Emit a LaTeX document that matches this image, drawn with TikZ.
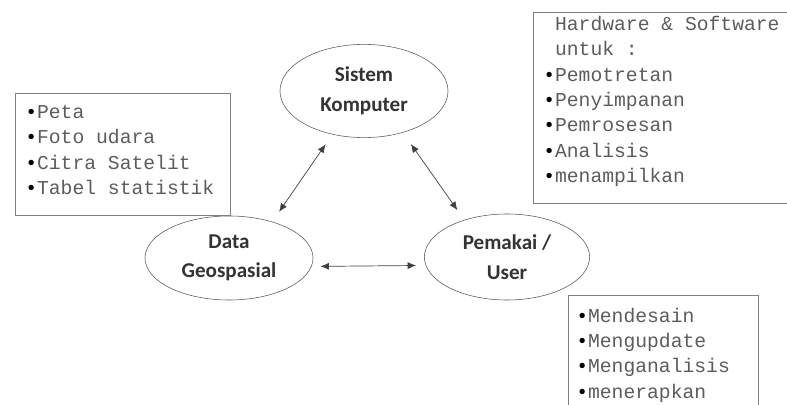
\documentclass[tikz,border=0pt]{standalone}
\usepackage{fontspec}
\setmainfont{Carlito}
\newfontfamily\monofont[WordSpace={1,0,0}]{Liberation Mono}
\usepackage{xcolor}
\usepackage{tikz}
\usetikzlibrary{arrows.meta, positioning, shapes.geometric}

\definecolor{teksabu}{gray}{0.36}
\definecolor{garisabu}{gray}{0.35}
\newcommand{\titik}{{\color{black}\textbullet}}

\tikzset{
  proses/.style={ellipse, draw=garisabu, thin, minimum width=4.2cm, minimum height=2.2cm,
    align=center, text=black!80, font=\fontsize{15}{21}\selectfont\bfseries},
  kotak/.style={draw=black!50, thin, anchor=north west, align=left, text=teksabu,
    font=\monofont\fontsize{14}{18}\selectfont,
    execute at begin node={\spaceskip=0.6em\relax\xspaceskip=0.6em\relax}},
  panah/.style={{Latex[length=6pt,width=5pt]}-{Latex[length=6pt,width=5pt]}, draw=black!75, line width=0.5pt}
}

\begin{document}
\begin{tikzpicture}[x=0.025cm, y=-0.025cm]
\useasboundingbox (0,0) rectangle (787,405);

\node[proses, minimum height=2.33cm] (sys) at (364,91) {Sistem\\Komputer};
\node[proses, minimum height=2.1cm] (geo) at (229,258) {Data\\Geospasial};
\node[proses, minimum width=4.13cm, minimum height=2.15cm] (usr) at (507,257) {Pemakai /\\User};

\node[kotak, text width=4.875cm, minimum height=3.05cm, inner xsep=0.25cm] (data) at (15,93)
  {\titik Peta\\\titik Foto udara\\\titik Citra Satelit\\\titik Tabel statistik\rule[-6pt]{0pt}{0pt}};
\node[kotak, text width=6.75cm, inner xsep=0.25cm, inner ysep=0.1cm] (hw) at (533,12)
  {\hphantom{\textbullet}Hardware \& Software\\\hphantom{\textbullet}untuk :\\\titik Pemotretan\\\titik Penyimpanan\\\titik Pemrosesan\\\titik Analisis\\\titik menampilkan\rule[-12pt]{0pt}{0pt}};
\node[kotak, text width=4.35cm, inner xsep=0.2cm, inner ysep=9pt] (guna) at (568,295)
  {\titik Mendesain\\\titik Mengupdate\\\titik Menganalisis\\\titik menerapkan};

\draw[panah, shorten <=0.3cm, shorten >=0.3cm] (sys.234) -- (geo.40);
\draw[panah, shorten <=0.35cm, shorten >=0.3cm] (sys.313) -- (usr.139);
\draw[panah, shorten <=0.18cm, shorten >=0.2cm] ([yshift=-6pt]geo.east) -- ([yshift=-6pt]usr.west);
\end{tikzpicture}
\end{document}
